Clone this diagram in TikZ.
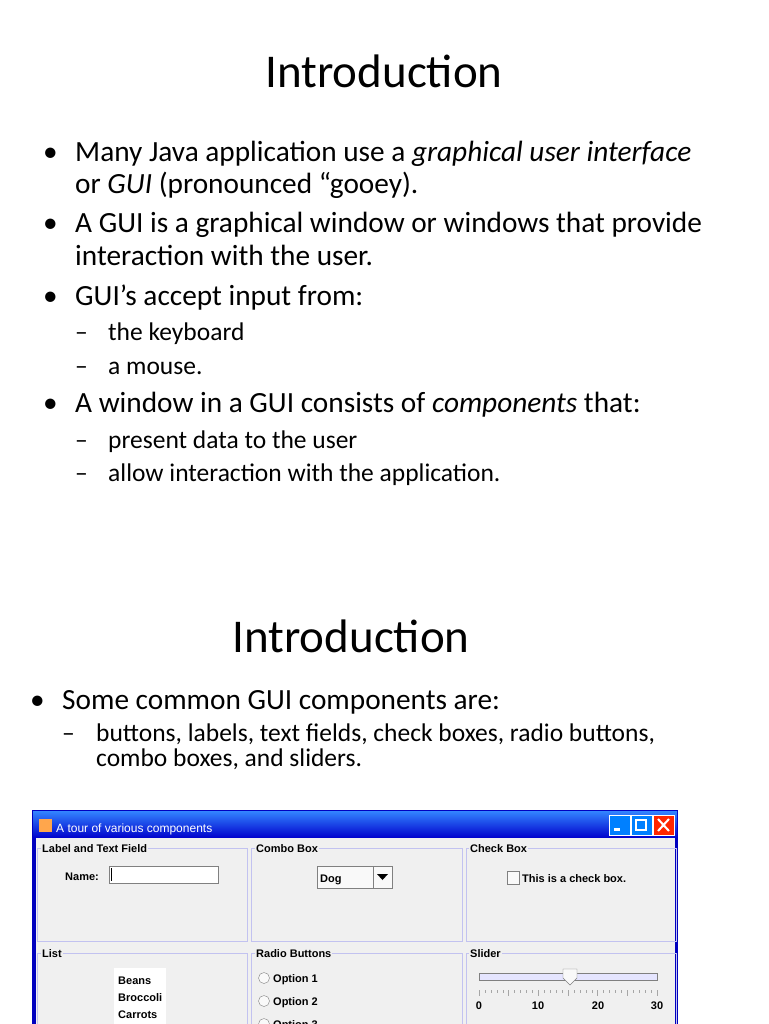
\documentclass[tikz,border=0pt]{standalone}
\usepackage{fontspec}
\setmainfont{Carlito}
\newfontfamily\jf{Liberation Sans}
\begin{document}
\begin{tikzpicture}[x=1pt,y=-1pt,
  tl/.style={anchor=base,font=\fontsize{47}{54}\selectfont,inner sep=0},
  b1/.style={anchor=base west,font=\fontsize{29.3}{34}\selectfont,inner sep=0},
  b2/.style={anchor=base west,font=\fontsize{25.5}{29}\selectfont,inner sep=0},
  jt/.style={anchor=base west,font=\jf\bfseries\fontsize{11}{13}\selectfont,inner sep=0},
  panel/.style={draw=gray!40!blue!30,line width=0.8,fill=none},
  ptit/.style={anchor=base west,font=\jf\bfseries\fontsize{11}{13}\selectfont,inner sep=1,fill=gray!12}]
\useasboundingbox (0,0) rectangle (768,1024);
\fill[white] (0,0) rectangle (768,1024);
\node[tl] (t1) at (384,88) {Introduction};
\node[b1] (a1) at (43,162) {•};
\node[b1] (a1t) at (75,162) {Many Java application use a \textit{graphical user interface}};
\node[b1] (a1u) at (75,194) {or \textit{GUI} (pronounced “gooey).};
\node[b1] (a2) at (43,233) {•};
\node[b1] (a2t) at (75,233) {A GUI is a graphical window or windows that provide};
\node[b1] (a2u) at (75,265) {interaction with the user.};
\node[b1] (a3) at (43,305) {•};
\node[b1] (a3t) at (75,305) {GUI’s accept input from:};
\node[b2] (s1d) at (75,340) {–};
\node[b2] (s1) at (108,340) {the keyboard};
\node[b2] (s2d) at (75,374) {–};
\node[b2] (s2) at (108,374) {a mouse.};
\node[b1] (a4) at (43,412) {•};
\node[b1] (a4t) at (75,412) {A window in a GUI consists of \textit{components} that:};
\node[b2] (s3d) at (75,448) {–};
\node[b2] (s3) at (108,448) {present data to the user};
\node[b2] (s4d) at (75,481) {–};
\node[b2] (s4) at (108,481) {allow interaction with the application.};
\node[tl] (t2) at (351,652) {Introduction};
\node[b1] (c1) at (30,709) {•};
\node[b1] (c1t) at (62,709) {Some common GUI components are:};
\node[b2] (d1d) at (62,741) {–};
\node[b2] (d1) at (96,741) {buttons, labels, text fields, check boxes, radio buttons,};
\node[b2] (d2) at (96,766) {combo boxes, and sliders.};
% window
\fill[blue!75!black] (32,810) rectangle (678,1024);
\shade[top color=blue!60!cyan!80,bottom color=blue!80!black] (33,811) rectangle (677,838);
\fill[gray!12] (36,838) rectangle (675,1024);
\fill[orange!70!white] (39,819) rectangle (52,832);
\node[anchor=base west,font=\jf\fontsize{12}{14}\selectfont,text=white,inner sep=0] (wt) at (56,832) {A tour of various components};
\foreach \xx/\cc in {609/blue!50!cyan,631/blue!50!cyan,653/red!70!orange}{
  \fill[\cc,draw=white,line width=0.8] (\xx,815) rectangle ++(21,20);}
\fill[white] (614,828) rectangle (620,831);
\draw[white,line width=1.2] (636,820) rectangle (646,830);
\draw[white,line width=2] (658,819) -- (669,831) (669,819) -- (658,831);
% panels
\foreach \px/\pw in {37/210,251/211,466/210}{
  \draw[panel] (\px,848) rectangle ++(\pw,93);
  \draw[panel] (\px,953) rectangle ++(\pw,80);}
\node[ptit] (p1) at (41,852) {Label and Text Field};
\node[ptit] (p2) at (255,852) {Combo Box};
\node[ptit] (p3) at (469,852) {Check Box};
\node[ptit] (p4) at (41,957) {List};
\node[ptit] (p5) at (255,957) {Radio Buttons};
\node[ptit] (p6) at (469,957) {Slider};
\node[jt] (nm) at (65,880) {Name:};
\draw[gray,fill=white] (109,866) rectangle (218,883);
\draw[black] (111,868) -- (111,881);
\draw[gray,fill=gray!5] (317,866) rectangle (392,888);
\draw[gray] (373,866) -- (373,888);
\fill (377,874) -- (388,874) -- (382.5,880) -- cycle;
\node[jt] (dog) at (320,882) {Dog};
\draw[gray,fill=gray!5] (507,871) rectangle (519,884);
\node[jt] (cb) at (522,882) {This is a check box.};
\fill[white] (114,968) rectangle (166,1024);
\node[jt] (l1) at (118,984) {Beans};
\node[jt] (l2) at (118,1001) {Broccoli};
\node[jt] (l3) at (118,1018) {Carrots};
\foreach \yy/\tt in {978/Option 1,1001/Option 2,1024/Option 3}{
  \draw[gray,fill=gray!5] (264,\yy) circle (5.5);
  \node[jt] at (273,\yy+4) {\tt};}
\draw[gray,fill=blue!10] (479,973) rectangle (657,980);
\draw[gray,fill=gray!5] (563,969) -- (577,969) -- (577,978) -- (570,985) -- (563,978) -- cycle;
\foreach \i in {0,...,30}{\draw[gray!70] ({479+\i*178/30},990) -- ++(0,{mod(\i,5)==0?6:3});}
\node[jt,anchor=base] at (479,1009) {0};
\node[jt,anchor=base] at (538,1009) {10};
\node[jt,anchor=base] at (598,1009) {20};
\node[jt,anchor=base] at (657,1009) {30};
\end{tikzpicture}
\end{document}
